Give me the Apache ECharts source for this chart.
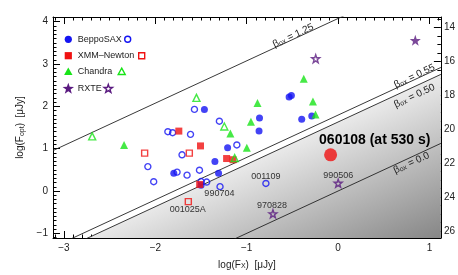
<!DOCTYPE html>
<html><head><meta charset="utf-8">
<script src="https://cdn.jsdelivr.net/npm/echarts@6/dist/echarts.min.js"></script>
<style>html,body{margin:0;padding:0;background:#fff}#c{width:458px;height:275px}</style>
</head><body><div id="c"></div><script>
// ---------- data ----------
const xMajorTicks = [-3, -2, -1, 0, 1];
const yMajorTicks = [-1, 0, 1, 2, 3, 4];
const magMajorTicks = [14, 16, 18, 20, 22, 24, 26];

const saxFilled = [[-1.463,1.927],[-0.860,1.727],[-0.865,1.419],[-0.536,2.223],[-0.511,2.258],[-0.398,1.694],[-0.288,1.773],[-1.209,1.021],[-1.348,0.694],[-1.798,0.419],[-1.308,0.422],[-1.500,0.135]];
const saxOpen = [[-1.572,1.927],[-1.299,1.648],[-1.863,1.401],[-1.811,1.377],[-1.615,1.338],[-1.108,1.088],[-1.708,0.855],[-2.082,0.576],[-2.018,0.219],[-1.762,0.447],[-1.653,0.375],[-1.517,0.492],[-1.499,0.224],[-1.438,0.212],[-1.292,0.103],[-0.790,0.179]];
const xmmFilled = [[-1.743,1.415],[-1.506,1.065],[-1.220,0.767],[-1.150,0.739],[-1.515,0.155]];
const xmmOpen = [[-2.117,0.895],[-1.628,0.895],[-1.639,-0.252]];
const chaFilled = [[-2.342,1.088],[-0.882,2.079],[-0.954,1.634],[-1.179,1.361],[-0.999,1.021],[-0.376,2.654],[-0.275,2.114],[-0.247,1.808]];
const chaOpen = [[-2.691,1.291],[-1.550,2.200],[-1.245,1.524],[-1.132,0.778]];
const rxteFilled = [[0.845,3.559]];
const rxteOpen = [[-0.245,3.125],[-0.713,-0.538],[0.001,0.184]];
const grb060108 = [[-0.082,0.855]];

const betaValues = [1.25, 0.55, 0.50, 0.0];
const betaLabelPos = [[-0.490,3.668],[0.837,2.713],[0.837,2.247],[0.804,0.662]];
const NU_LOG = 3.26;           // log(nu_X / nu_opt)
const SHADE_BETA = 0.50;

const annotations = [
  ['001109', -0.790, 0.352],
  ['990704', -1.299, -0.061],
  ['001025A', -1.645, -0.440],
  ['970828', -0.722, -0.333],
  ['990506', 0.001, 0.375]
];
const grbLabel = ['060108 (at 530 s)', 0.401, 1.210];

// ---------- layout ----------
const XMIN = -3.12, XMAX = 1.125, YMIN = -1.11, YMAX = 4.11;
const MAG0 = 23.645;
const FONT = '"Liberation Sans", Arial, Helvetica, sans-serif';
const BLUE = '#1414f2', RED = '#f01212', GREEN = '#18e418', PURPLE = '#5a1a80';
const ROT = Math.atan((224 / (YMAX - YMIN)) / (389 / (XMAX - XMIN)));

function minorList(a, b, step, majors) {
  const out = [];
  const n = Math.round((b - a) / step);
  for (let i = 0; i <= n; i++) {
    const v = Math.round((a + i * step) * 1000) / 1000;
    if (!majors.some(m => Math.abs(m - v) < 1e-6)) out.push(v);
  }
  return out;
}
const xMinor = minorList(-3.1, 1.1, 0.1, xMajorTicks);
const yMinor = minorList(-1.1, 4.1, 0.1, yMajorTicks);
const magMinor = minorList(13.5, 26.0, 0.5, magMajorTicks);

function starPath() {
  let d = '';
  for (let i = 0; i < 10; i++) {
    const r = i % 2 === 0 ? 1 : 0.4;
    const a = -Math.PI / 2 + i * Math.PI / 5;
    d += (i === 0 ? 'M' : 'L') + (r * Math.cos(a)).toFixed(3) + ',' + (r * Math.sin(a)).toFixed(3);
  }
  return 'path://' + d + 'Z';
}
const STAR = starPath();
function starPoints(cx, cy, R) {
  const pts = [];
  for (let i = 0; i < 10; i++) {
    const r = i % 2 === 0 ? R : R * 0.4;
    const a = -Math.PI / 2 + i * Math.PI / 5;
    pts.push([cx + r * Math.cos(a), cy + r * Math.sin(a)]);
  }
  return pts;
}
const fmt = v => String(v).replace('-', '\u2212');
const tickLbl = {fontSize: 10, color: '#222', fontFamily: FONT};
const subRich = {s: {fontSize: 7, verticalAlign: 'bottom', fontFamily: FONT, color: '#222', padding: [3, 0, 0, 0]}};

function xAx(pos, major) {
  const vals = major ? xMajorTicks : xMinor;
  const o = {type: 'value', position: pos, min: XMIN, max: XMAX,
    axisLine: {show: major, onZero: false, lineStyle: {color: '#000', width: 1}},
    axisTick: {show: true, inside: true, length: major ? 7 : 3.5, customValues: vals, lineStyle: {color: '#000', width: 1}},
    axisLabel: {show: major && pos === 'bottom', customValues: xMajorTicks, formatter: fmt, margin: 5, ...tickLbl},
    splitLine: {show: false}};
  if (major && pos === 'bottom') {
    o.name = 'log(F{s|X})  [\u03bcJy]';
    o.nameLocation = 'middle';
    o.nameGap = 22;
    o.nameTextStyle = {fontSize: 10, color: '#222', fontFamily: FONT, rich: subRich};
  }
  return o;
}
function yAx(pos, major, mag) {
  const vals = mag ? (major ? magMajorTicks : magMinor) : (major ? yMajorTicks : yMinor);
  const o = {type: 'value', position: pos,
    min: mag ? MAG0 - 2.5 * YMAX : YMIN, max: mag ? MAG0 - 2.5 * YMIN : YMAX, inverse: !!mag,
    axisLine: {show: major, onZero: false, lineStyle: {color: '#000', width: 1}},
    axisTick: {show: true, inside: true, length: major ? 7 : 3.5, customValues: vals, lineStyle: {color: '#000', width: 1}},
    axisLabel: {show: major, customValues: vals, formatter: fmt, margin: mag ? 3 : 5, ...tickLbl},
    splitLine: {show: false}};
  if (major && !mag) {
    o.name = 'log(F{s|opt})  [\u03bcJy]';
    o.nameLocation = 'middle';
    o.nameGap = 22;
    o.nameTextStyle = {fontSize: 10, color: '#222', fontFamily: FONT, rich: subRich};
  }
  return o;
}

function scat(name, data, color, symbol, size, open) {
  return {type: 'scatter', name, data, symbol, symbolSize: size, z: 5,
    itemStyle: open ? {color: 'rgba(0,0,0,0)', borderColor: color, borderWidth: 1.4} : {color, borderWidth: 0},
    emphasis: {disabled: true}};
}

const series = [];
// shaded region below beta = 0.50
series.push({type: 'custom', z: 1, silent: true, data: [0], renderItem: (p, api) => {
  const off = SHADE_BETA * NU_LOG;
  const pts = [api.coord([YMIN - off, YMIN]), api.coord([XMAX, XMAX + off]), api.coord([XMAX, YMIN])];
  return {type: 'polygon', shape: {points: pts}, style: {
    fill: new echarts.graphic.LinearGradient(0.79, 0, 1, 1, [{offset: 0, color: '#ffffff'}, {offset: 1, color: '#868686'}]),
    stroke: null}};
}});
// beta lines
betaValues.forEach(b => {
  const off = b * NU_LOG;
  series.push({type: 'line', data: [[XMIN, XMIN + off], [XMAX, XMAX + off]], clip: true, symbol: 'none', z: 2,
    silent: true, lineStyle: {color: '#222', width: 0.9}});
});
// beta labels
series.push({type: 'custom', z: 3, silent: true, data: betaValues.map((b, i) => [betaLabelPos[i][0], betaLabelPos[i][1], i]),
  renderItem: (p, api) => {
    const i = api.value(2);
    const c = api.coord([api.value(0), api.value(1)]);
    const v = betaValues[i];
    const txt = v === 0 ? '0.0' : v.toFixed(2);
    return {type: 'text', x: c[0], y: c[1], rotation: ROT, style: {
      text: '{b|\u03b2}{s|ox} = ' + txt, align: 'center', verticalAlign: 'middle', fill: '#222',
      fontSize: 10, fontFamily: FONT,
      rich: {b: {fontSize: 10, fontFamily: FONT, color: '#222'}, s: {fontSize: 7, fontFamily: FONT, color: '#222', verticalAlign: 'bottom', padding: [3, 0, 0, 0]}}}};
  }});
// markers
series.push(scat('BeppoSAX', saxFilled, BLUE, 'circle', 7, false));
series.push(scat('BeppoSAX open', saxOpen, BLUE, 'circle', 6, true));
series.push(scat('XMM-Newton', xmmFilled, RED, 'rect', 7, false));
series.push(scat('XMM-Newton open', xmmOpen, RED, 'rect', 6, true));
series.push(scat('Chandra', chaFilled, GREEN, 'triangle', 8, false));
series.push(scat('Chandra open', chaOpen, GREEN, 'triangle', 7, true));
series.push(scat('RXTE', rxteFilled, PURPLE, STAR, 11, false));
series.push(scat('RXTE open', rxteOpen, PURPLE, STAR, 8, true));
series.push(scat('060108', grb060108, RED, 'circle', 13, false));
// annotations
series.push({type: 'custom', z: 6, silent: true, data: annotations.map((a, i) => [a[1], a[2], i]),
  renderItem: (p, api) => {
    const c = api.coord([api.value(0), api.value(1)]);
    return {type: 'text', x: c[0], y: c[1], style: {text: annotations[api.value(2)][0], align: 'center', verticalAlign: 'middle',
      fill: '#333', fontSize: 9, fontFamily: FONT}};
  }});
series.push({type: 'custom', z: 6, silent: true, data: [[grbLabel[1], grbLabel[2]]],
  renderItem: (p, api) => {
    const c = api.coord([api.value(0), api.value(1)]);
    return {type: 'text', x: c[0], y: c[1], style: {text: grbLabel[0], align: 'center', verticalAlign: 'middle',
      fill: '#000', fontSize: 14, fontWeight: 'bold', fontFamily: FONT}};
  }});

// legend drawn as graphics
const legendRows = [
  {label: 'BeppoSAX', color: BLUE, shape: 'circle', y: 39.3, openX: 127.7},
  {label: 'XMM\u2013Newton', color: RED, shape: 'rect', y: 55.7, openX: 141.7},
  {label: 'Chandra', color: GREEN, shape: 'tri', y: 71.7, openX: 121.7},
  {label: 'RXTE', color: PURPLE, shape: 'star', y: 88.3, openX: 108.3}
];
function marker(shape, cx, cy, color, open) {
  const style = open ? {fill: 'none', stroke: color, lineWidth: 1.4} : {fill: color};
  if (shape === 'circle') return {type: 'circle', shape: {cx, cy, r: open ? 3 : 3.6}, style};
  if (shape === 'rect') { const h = open ? 3 : 3.6; return {type: 'rect', shape: {x: cx - h, y: cy - h, width: 2 * h, height: 2 * h}, style}; }
  if (shape === 'tri') { const h = open ? 3.5 : 4.2; return {type: 'polygon', shape: {points: [[cx, cy - h], [cx + h, cy + h * 0.8], [cx - h, cy + h * 0.8]]}, style}; }
  return {type: 'polygon', shape: {points: starPoints(cx, cy + 0.5, open ? 4.4 : 6)}, style};
}
const graphic = [];
legendRows.forEach(r => {
  graphic.push(marker(r.shape, 68.3, r.y, r.color, false));
  graphic.push({type: 'text', x: 77.7, y: r.y, style: {text: r.label, fill: '#222', fontSize: 9, fontFamily: FONT, verticalAlign: 'middle'}});
  graphic.push(marker(r.shape, r.openX, r.y, r.color, true));
});

const chart = echarts.init(document.getElementById('c'), null, {renderer: 'canvas'});
chart.setOption({
  animation: false,
  backgroundColor: '#fff',
  grid: {left: 53, right: 16, top: 17, bottom: 34, containLabel: false},
  xAxis: [xAx('bottom', true), xAx('bottom', false), xAx('top', true), xAx('top', false)],
  yAxis: [yAx('left', true, false), yAx('left', false, false), yAx('right', true, true), yAx('right', false, true)],
  series,
  graphic: graphic.map(g => Object.assign(g, {z: 10}))
});
</script></body></html>
